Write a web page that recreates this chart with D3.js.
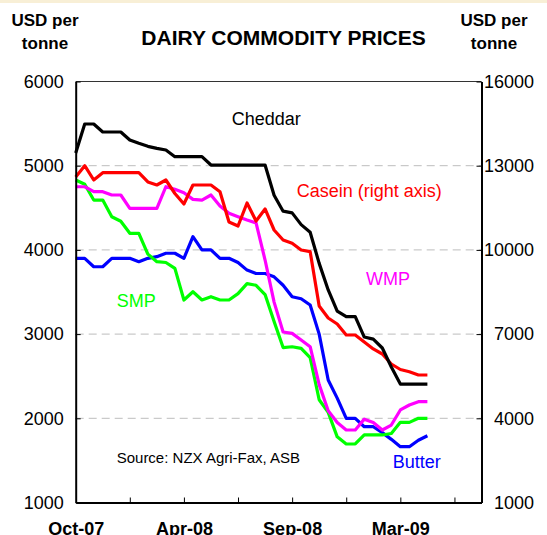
<!DOCTYPE html>
<html>
<head>
<meta charset="utf-8" />
<title>Dairy commodity prices</title>
<script src="https://cdn.jsdelivr.net/npm/d3@7"></script>
<style>
    body { margin: 0; background: #fff; }
    svg { font-family: "Liberation Sans", Arial, sans-serif; display: block; }
    .grid line { stroke: #bdbdbd; stroke-width: 1; stroke-dasharray: 8,5; }
    .axis path, .axis line { stroke: #000; }
    .axis text { font-size: 18px; fill: #000; }
    .series { fill: none; stroke-width: 3.2; stroke-linejoin: round; }
</style>
</head>
<body>
<script>
    // fortnightly observations, Oct-07 onwards (index 0..39)
    var tickLabels = ['Oct-07', 'Apr-08', 'Sep-08', 'Mar-09'];
    var tickAt = [0, 12, 24, 36];

    var leftTicks = [1000, 2000, 3000, 4000, 5000, 6000];
    var rightTicks = [1000, 4000, 7000, 10000, 13000, 16000];

    var butter = [3900, 3900, 3800, 3800, 3900, 3900, 3900, 3860, 3900, 3920,
                  3960, 3960, 3900, 4157, 4000, 4000, 3900, 3900, 3850, 3760,
                  3720, 3720, 3680, 3580, 3444, 3420, 3345, 3000, 2455, 2240,
                  2000, 2000, 1900, 1900, 1830, 1750, 1663, 1663, 1740, 1793];

    var smp = [4830, 4780, 4592, 4592, 4394, 4340, 4197, 4197, 3950, 3860,
               3850, 3780, 3405, 3503, 3405, 3444, 3405, 3405, 3480, 3600,
               3580, 3470, 3150, 2840, 2850, 2830, 2720, 2220, 2070, 1780,
               1695, 1695, 1802, 1802, 1802, 1820, 1952, 1952, 2000, 2000];

    var wmp = [4750, 4750, 4691, 4691, 4652, 4652, 4494, 4494, 4494, 4494,
               4750, 4720, 4679, 4600, 4592, 4652, 4520, 4434, 4394, 4355,
               4320, 3880, 3380, 3025, 3009, 2930, 2850, 2400, 2090, 1950,
               1861, 1861, 1990, 1950, 1861, 1920, 2099, 2158, 2197, 2197];

    // right axis
    var casein = [12600, 13000, 12490, 12750, 12750, 12750, 12750, 12750, 12420, 12313,
                  12490, 12010, 11636, 12313, 12313, 12313, 12074, 10994, 10852, 11671,
                  11030, 11460, 10709, 10353, 10236, 9997, 9936, 8001, 7573, 7360,
                  6968, 6968, 6719, 6470, 6291, 5935, 5739, 5660, 5543, 5543];

    var cheddar = [5150, 5495, 5495, 5400, 5400, 5400, 5305, 5266, 5230, 5206,
                   5186, 5107, 5107, 5107, 5107, 5008, 5008, 5008, 5008, 5008,
                   5008, 5008, 4650, 4460, 4440, 4300, 4210, 3840, 3524, 3274,
                   3207, 3207, 2965, 2940, 2835, 2610, 2407, 2407, 2407, 2407];

    var W = 547, H = 535;
    var plotL = 75.7, plotR = 481.5, plotT = 81.5, plotB = 502.5;

    var svg = d3.select('body').append('svg').attr('width', W).attr('height', H);

    svg.append('rect').attr('x', 0).attr('y', 0).attr('width', W).attr('height', 3).attr('fill', '#f8efd6');

    var x = d3.scaleLinear().domain([0, 45]).range([plotL, plotR]);
    var yL = d3.scaleLinear().domain([1000, 6000]).range([plotB, plotT]);
    var yR = d3.scaleLinear().domain([1000, 16000]).range([plotB, plotT]);

    // dashed gridlines
    svg.append('g').attr('class', 'grid')
        .selectAll('line').data([2000, 3000, 4000, 5000]).enter()
        .append('line')
        .attr('x1', plotL).attr('x2', plotR)
        .attr('y1', function (d) { return yL(d); })
        .attr('y2', function (d) { return yL(d); });

    // top border
    svg.append('line').attr('x1', plotL).attr('x2', plotR).attr('y1', plotT).attr('y2', plotT)
        .attr('stroke', '#333').attr('stroke-width', 1);

    // series
    var series = [
        { v: butter, c: '#0000ff', y: yL },
        { v: smp, c: '#00ff00', y: yL },
        { v: wmp, c: '#ff00ff', y: yL },
        { v: casein, c: '#ff0000', y: yR },
        { v: cheddar, c: '#000000', y: yL }
    ];
    series.forEach(function (s) {
        var line = d3.line()
            .x(function (d, i) { return x(i); })
            .y(function (d) { return s.y(d); });
        svg.append('path').attr('class', 'series')
            .attr('stroke', s.c)
            .attr('d', line(s.v));
    });

    // left axis
    var gl = svg.append('g').attr('class', 'axis')
        .attr('transform', 'translate(' + plotL + ',0)')
        .call(d3.axisLeft(yL).tickValues(leftTicks).tickSizeInner(-5).tickSizeOuter(0).tickPadding(12).tickFormat(d3.format('d')));
    gl.select('.domain').attr('stroke-width', 2);

    // right axis
    var gr = svg.append('g').attr('class', 'axis')
        .attr('transform', 'translate(' + plotR + ',0)')
        .call(d3.axisRight(yR).tickValues(rightTicks).tickSizeInner(-5).tickSizeOuter(0).tickFormat(d3.format('d')));
    gr.select('.domain').attr('stroke-width', 2);
    gr.selectAll('text').attr('text-anchor', 'end').attr('x', 52.5);

    // bottom axis
    var gb = svg.append('g').attr('class', 'axis')
        .attr('transform', 'translate(0,' + plotB + ')')
        .call(d3.axisBottom(x).tickValues(d3.range(0, 46, 6)).tickSizeInner(-5).tickSizeOuter(0)
            .tickFormat(function (d) {
                var k = tickAt.indexOf(d);
                return k < 0 ? '' : tickLabels[k];
            }));
    gb.select('.domain').attr('stroke-width', 2);
    gb.selectAll('.tick line').filter(function (d) { return d === 0; }).remove();
    gb.selectAll('text').attr('y', 32).attr('dy', 0).style('font-weight', 'bold');

    // titles
    svg.append('text').attr('x', 283.5).attr('y', 45).attr('text-anchor', 'middle')
        .style('font-size', '21px').style('font-weight', 'bold').text('DAIRY COMMODITY PRICES');

    [45, 494].forEach(function (cx) {
        var t = svg.append('text').attr('x', cx).attr('text-anchor', 'middle')
            .style('font-size', '17px').style('font-weight', 'bold');
        t.append('tspan').attr('x', cx).attr('y', 26).text('USD per');
        t.append('tspan').attr('x', cx).attr('y', 49).text('tonne');
    });

    // series labels
    var labels = [
        { t: 'Cheddar', x: 231.7, y: 125, c: '#000000' },
        { t: 'Casein (right axis)', x: 296.7, y: 196.7, c: '#ff0000' },
        { t: 'WMP', x: 366, y: 285, c: '#ff00ff' },
        { t: 'SMP', x: 116.7, y: 306.7, c: '#00ff00' },
        { t: 'Butter', x: 392.7, y: 468.3, c: '#0000ff' }
    ];
    svg.selectAll('.lbl').data(labels).enter().append('text')
        .attr('x', function (d) { return d.x; })
        .attr('y', function (d) { return d.y; })
        .attr('fill', function (d) { return d.c; })
        .style('font-size', '18px')
        .text(function (d) { return d.t; });

    svg.append('text').attr('x', 116.7).attr('y', 462.7).style('font-size', '15px')
        .text('Source: NZX Agri-Fax, ASB');
</script>
</body>
</html>
